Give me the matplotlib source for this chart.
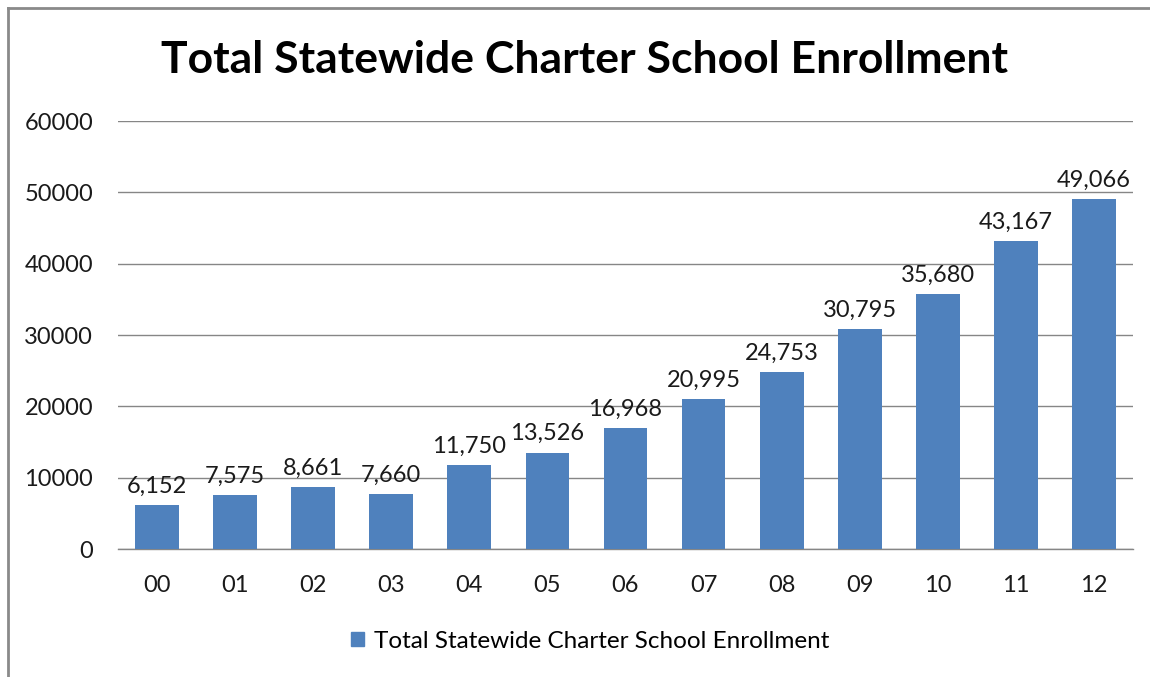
import matplotlib
matplotlib.use("Agg")
import matplotlib.pyplot as plt
from matplotlib.lines import Line2D
from matplotlib.patches import Patch

# enrollment by school year
years = ["00", "01", "02", "03", "04", "05", "06", "07", "08", "09", "10", "11", "12"]
enrollment = [6152, 7575, 8661, 7660, 11750, 13526, 16968, 20995, 24753, 30795, 35680, 43167, 49066]
y_ticks = [0, 10000, 20000, 30000, 40000, 50000, 60000]

title = "Total Statewide Charter School Enrollment"
bar_color = "#4F81BD"
grid_color = "#868686"
text_color = "#1a1a1a"

plt.rcParams["font.family"] = ["Lato", "DejaVu Sans"]

fig = plt.figure(figsize=(11.5, 6.77), dpi=100)
ax = fig.add_axes([118 / 1150, 1 - 549 / 677, (1133 - 118) / 1150, (549 - 121) / 677])

x = range(len(years))
bars = ax.bar(x, enrollment, width=0.56, color=bar_color, zorder=3)

for xi, v in zip(x, enrollment):
    ax.annotate(f"{v:,}", (xi, v), xytext=(0, 6), textcoords="offset points",
                ha="center", va="bottom", fontsize=17, color=text_color, zorder=4)

ax.set_xlim(-0.5, len(years) - 0.5)
ax.set_ylim(0, 60000)
ax.set_yticks(y_ticks)
ax.set_yticklabels([str(t) for t in y_ticks], fontsize=17, color=text_color)
ax.set_xticks(list(x))
ax.set_xticklabels(years, fontsize=17, color=text_color)
ax.tick_params(axis="both", length=0)
ax.tick_params(axis="y", pad=18)
ax.tick_params(axis="x", pad=19)

ax.yaxis.grid(True, color=grid_color, linewidth=1, zorder=0)
for side in ["top", "right", "left"]:
    ax.spines[side].set_visible(False)
ax.spines["bottom"].set_color(grid_color)
ax.spines["bottom"].set_linewidth(1)

fig.text(585 / 1150, 1 - 60 / 677, title, ha="center", va="center",
         fontsize=32, fontweight="bold", color="black")

handle = Patch(facecolor=bar_color, edgecolor=bar_color)
fig.legend([handle], [title], loc="center", bbox_to_anchor=(590 / 1150, 1 - 641 / 677),
           frameon=False, fontsize=17.5, handlelength=0.55, handleheight=0.55,
           handletextpad=0.4)

# outer frame: top and left edges
fig.add_artist(Line2D([8 / 1150, 1.0], [1 - 8 / 677, 1 - 8 / 677],
                      transform=fig.transFigure, color="#8a8a8a", linewidth=2))
fig.add_artist(Line2D([8 / 1150, 8 / 1150], [0.0, 1 - 8 / 677],
                      transform=fig.transFigure, color="#8a8a8a", linewidth=2))

fig.savefig("out.png", dpi=100)
